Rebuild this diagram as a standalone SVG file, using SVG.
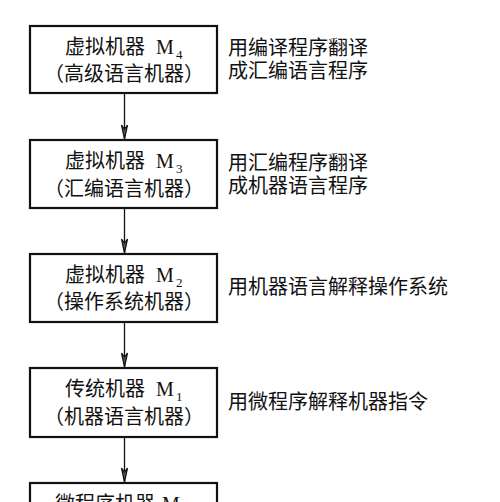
<svg xmlns="http://www.w3.org/2000/svg" width="500" height="502" viewBox="0 0 500 502">
<style>
.box{fill:#fff;stroke:#111;stroke-width:2.2}
.cjk{font-family:"Noto Sans CJK SC","Noto Sans",sans-serif;font-size:20px;fill:#111}
.m{font-family:"Liberation Serif","Times New Roman",serif;font-size:20px;fill:#111}
.sub{font-family:"Liberation Serif","Times New Roman",serif;font-size:13px;fill:#111}
.conn{stroke:#111;stroke-width:1.3;fill:none}
.head{stroke:#111;stroke-width:1.2;fill:#555}
</style>
<rect width="500" height="502" fill="#fff"/>
<g id="connectors">
<line class="conn" x1="124.5" y1="94" x2="124.5" y2="139"/>
<path class="head" d="M121.5,125 L124.5,139 L127.5,125 L124.5,129 Z"/>
<line class="conn" x1="124.5" y1="208" x2="124.5" y2="253"/>
<path class="head" d="M121.5,239 L124.5,253 L127.5,239 L124.5,243 Z"/>
<line class="conn" x1="124.5" y1="322" x2="124.5" y2="367"/>
<path class="head" d="M121.5,353 L124.5,367 L127.5,353 L124.5,357 Z"/>
<line class="conn" x1="124.5" y1="437" x2="124.5" y2="482"/>
<path class="head" d="M121.5,468 L124.5,482 L127.5,468 L124.5,472 Z"/>
</g>
<g id="m4">
<rect class="box" x="30" y="26" width="187" height="67"/>
<text class="cjk" x="65" y="54">虚拟机器</text>
<text class="m" x="156" y="54">M</text><text class="sub" x="176" y="59">4</text>
<text class="cjk" x="44" y="81">（高级语言机器）</text>
<text class="cjk" x="228" y="55">用编译程序翻译</text>
<text class="cjk" x="228" y="78">成汇编语言程序</text>
</g>
<g id="m3">
<rect class="box" x="30" y="140" width="187" height="68"/>
<text class="cjk" x="65" y="168">虚拟机器</text>
<text class="m" x="156" y="168">M</text><text class="sub" x="176" y="173">3</text>
<text class="cjk" x="44" y="196">（汇编语言机器）</text>
<text class="cjk" x="228" y="170">用汇编程序翻译</text>
<text class="cjk" x="228" y="193">成机器语言程序</text>
</g>
<g id="m2">
<rect class="box" x="30" y="254" width="187" height="68"/>
<text class="cjk" x="65" y="282">虚拟机器</text>
<text class="m" x="156" y="282">M</text><text class="sub" x="176" y="287">2</text>
<text class="cjk" x="44" y="309">（操作系统机器）</text>
<text class="cjk" x="228" y="294">用机器语言解释操作系统</text>
</g>
<g id="m1">
<rect class="box" x="30" y="368" width="187" height="69"/>
<text class="cjk" x="65" y="396">传统机器</text>
<text class="m" x="156" y="396">M</text><text class="sub" x="176" y="401">1</text>
<text class="cjk" x="44" y="424">（机器语言机器）</text>
<text class="cjk" x="228" y="409">用微程序解释机器指令</text>
</g>
<g id="m0">
<rect class="box" x="30" y="483" width="187" height="68"/>
<text class="cjk" x="55" y="511">微程序机器</text>
<text class="m" x="162" y="511">M</text><text class="sub" x="182" y="516">0</text>
</g>
</svg>
